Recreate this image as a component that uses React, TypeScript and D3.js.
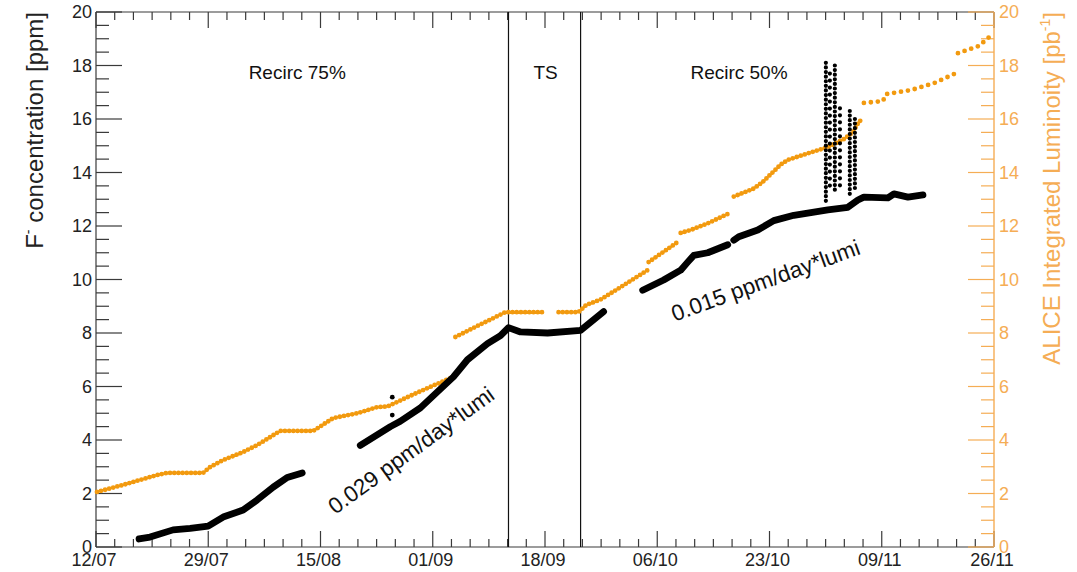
import React from "react";
import * as d3 from "d3";

// Time axis: days since 12/07, eight equal divisions up to 26/11
const DAY_SPAN = 137;
const xTickLabels = ["12/07", "29/07", "15/08", "01/09", "18/09", "06/10", "23/10", "09/11", "26/11"];
const yTickValues = [0, 2, 4, 6, 8, 10, 12, 14, 16, 18, 20];

// F- concentration [ppm] runs, as [day, ppm]
const fluorineRuns: [number, number][][] = [
  [[6.57, 0.3], [8.25, 0.37], [11.76, 0.64], [14.36, 0.7], [17.11, 0.78], [19.4, 1.12], [22.45, 1.38], [24.59, 1.76], [27.04, 2.24], [29.17, 2.6], [31.46, 2.77]],
  [[40.32, 3.8], [44.91, 4.5], [46.43, 4.7], [49.49, 5.2], [52.08, 5.8], [54.53, 6.36], [56.67, 7.0], [59.72, 7.6], [61.71, 7.9], [62.93, 8.2], [64.76, 8.04], [68.89, 8.0], [73.93, 8.1], [77.44, 8.8]],
  [[83.4, 9.6], [86.6, 9.98], [89.2, 10.35], [90.27, 10.65], [91.19, 10.9], [93.33, 11.0], [96.38, 11.3]],
  [[97.3, 11.47], [98.06, 11.6], [100.96, 11.85], [103.4, 12.2], [106.46, 12.4], [111.65, 12.6], [114.7, 12.7], [116.24, 12.97], [117.15, 13.08], [120.82, 13.05], [121.74, 13.2], [123.87, 13.08], [126.16, 13.16]],
];

// isolated F- readings
const fluorineOutliers: [number, number][] = [[45.2, 5.6], [45.2, 4.93]];

// noisy F- readings late October, as [day, lowest ppm, highest ppm]
const fluorineSpikes: [number, number, number][] = [
  [111.35, 12.9, 18.1],
  [111.96, 13.4, 17.7],
  [112.72, 13.2, 18.0],
  [113.5, 13.5, 16.4],
  [115.0, 13.1, 16.3],
  [115.78, 13.3, 16.0],
];

// ALICE integrated luminosity [pb^-1] runs, as [day, value]
const lumiRuns: [number, number][][] = [
  [[0.15, 2.06], [4.12, 2.32], [5.65, 2.43], [9.32, 2.69], [10.84, 2.77], [16.34, 2.77], [17.41, 2.99], [19.4, 3.25], [22.45, 3.55], [24.59, 3.81], [26.58, 4.11], [28.1, 4.34], [33.15, 4.34], [36.2, 4.82], [39.87, 5.0], [42.92, 5.23], [44.45, 5.25], [47.5, 5.6], [50.56, 5.94], [54.53, 6.36]],
  [[54.83, 7.85], [57.58, 8.19], [62.47, 8.78], [68.12, 8.78]],
  [[70.57, 8.78], [73.62, 8.78], [74.8, 9.05], [76.98, 9.25], [78.97, 9.55], [81.56, 9.95], [84.16, 10.35]],
  [[84.31, 10.65], [88.74, 11.4]],
  [[89.2, 11.74], [90.73, 11.85], [93.33, 12.1], [96.84, 12.5]],
  [[97.3, 13.1], [100.35, 13.4], [101.73, 13.65], [104.48, 14.3], [105.54, 14.47], [109.06, 14.75], [111.65, 14.95], [114.1, 15.25], [115.47, 15.5], [116.39, 15.9], [117.0, 16.0]],
  [[117.15, 16.6], [120.06, 16.67], [120.51, 16.93], [124.33, 17.08], [127.84, 17.34], [130.9, 17.68]],
  [[131.5, 18.46], [134.7, 18.73], [136.1, 19.03], [137.0, 19.2]],
];

// operating periods
const phaseBoundaries = [62.93, 73.93];
const phaseLabels: { text: string; day: number }[] = [
  { text: "Recirc 75%", day: 30.7 },
  { text: "TS", day: 68.6 },
  { text: "Recirc 50%", day: 98.1 },
];
const slopeNotes: { text: string; day: number; ppm: number }[] = [
  { text: "0.029 ppm/day*lumi", day: 36.5, ppm: 1.2 },
  { text: "0.015 ppm/day*lumi", day: 88.3, ppm: 8.42 },
];

const W = 1077;
const H = 572;
const L = 96;
const R = 994;
const T = 12;
const B = 547;
const FONT = "'Liberation Sans', Arial, Helvetica, sans-serif";
const AXIS = "#3a3a3a";
const ORANGE = "#f29a0f";
const ORANGE_AXIS = "#f5ad55";

export default function App() {
  const x = d3.scaleLinear().domain([0, DAY_SPAN]).range([L, R]);
  const yL = d3.scaleLinear().domain([0, 20]).range([B, T]);
  const yR = d3.scaleLinear().domain([0, 20]).range([B, T]);

  const fLine = d3.line<[number, number]>().x((d) => x(d[0])).y((d) => yL(d[1]));
  const lLine = d3.line<[number, number]>().x((d) => x(d[0])).y((d) => yR(d[1]));

  const nDiv = xTickLabels.length - 1;
  const majorDays = xTickLabels.map((_, i) => (DAY_SPAN * i) / nDiv);
  const minorDays: number[] = [];
  for (let i = 0; i < nDiv; i++) {
    for (let k = 1; k < 6; k++) minorDays.push(majorDays[i] + ((majorDays[i + 1] - majorDays[i]) * k) / 6);
  }
  const minorY: number[] = [];
  for (let v = 0; v < 20; v += 0.5) if (v % 2 !== 0) minorY.push(v);

  const xMajLen = 16;
  const xMinLen = 8;
  const yMajLen = 26;
  const yMinLen = 13;

  return (
    <svg width={W} height={H} style={{ position: "absolute", left: 0, top: 0, background: "#fff" }} fontFamily={FONT}>
      {/* frame */}
      <line x1={L} x2={R} y1={B} y2={B} stroke={AXIS} strokeWidth={1.2} />
      <line x1={L} x2={R} y1={T} y2={T} stroke={AXIS} strokeWidth={1.2} />
      <line x1={L} x2={L} y1={T} y2={B} stroke={AXIS} strokeWidth={1.2} />

      {/* x ticks, bottom and top */}
      {majorDays.map((d, i) => (
        <g key={"xm" + i}>
          <line x1={x(d)} x2={x(d)} y1={B} y2={B - xMajLen} stroke={AXIS} strokeWidth={1.2} />
          <line x1={x(d)} x2={x(d)} y1={T} y2={T + xMajLen} stroke={AXIS} strokeWidth={1.2} />
          <text x={x(d) - 2} y={566} fontSize={18} textAnchor="middle" fill="#222">
            {xTickLabels[i]}
          </text>
        </g>
      ))}
      {minorDays.map((d, i) => (
        <g key={"xn" + i}>
          <line x1={x(d)} x2={x(d)} y1={B} y2={B - xMinLen} stroke={AXIS} strokeWidth={1.2} />
          <line x1={x(d)} x2={x(d)} y1={T} y2={T + xMinLen} stroke={AXIS} strokeWidth={1.2} />
        </g>
      ))}

      {/* left axis */}
      {yTickValues.map((v) => (
        <g key={"yl" + v}>
          <line x1={L} x2={L + yMajLen} y1={yL(v)} y2={yL(v)} stroke={AXIS} strokeWidth={1.2} />
          <text x={92} y={yL(v) + 6} fontSize={18} textAnchor="end" fill="#222">
            {v}
          </text>
        </g>
      ))}
      {minorY.map((v) => (
        <line key={"ylm" + v} x1={L} x2={L + yMinLen} y1={yL(v)} y2={yL(v)} stroke={AXIS} strokeWidth={1.2} />
      ))}
      <text transform={`translate(43,${T}) rotate(-90)`} fontSize={24} textAnchor="end" fill="#222">
        F<tspan fontSize={14} dy={-10}>-</tspan>
        <tspan dy={10}> concentration [ppm]</tspan>
      </text>

      {/* right axis, luminosity */}
      <line x1={R} x2={R} y1={T} y2={B} stroke={ORANGE_AXIS} strokeWidth={1.4} />
      {yTickValues.map((v) => (
        <g key={"yr" + v}>
          <line x1={R} x2={R - yMajLen} y1={yR(v)} y2={yR(v)} stroke={ORANGE_AXIS} strokeWidth={1.2} />
          <text x={999} y={yR(v) + 6} fontSize={18} textAnchor="start" fill={ORANGE_AXIS}>
            {v}
          </text>
        </g>
      ))}
      {minorY.map((v) => (
        <line key={"yrm" + v} x1={R} x2={R - yMinLen} y1={yR(v)} y2={yR(v)} stroke={ORANGE_AXIS} strokeWidth={1.2} />
      ))}
      <text transform={`translate(1060,${T}) rotate(-90)`} fontSize={24} textAnchor="end" fill={ORANGE_AXIS}>
        ALICE Integrated Luminoity [pb
        <tspan fontSize={14} dy={-10}>-1</tspan>
        <tspan dy={10}>]</tspan>
      </text>

      {/* period boundaries */}
      {phaseBoundaries.map((d) => (
        <line key={"pb" + d} x1={x(d)} x2={x(d)} y1={T} y2={B} stroke="#111" strokeWidth={1.2} />
      ))}
      {phaseLabels.map((p) => (
        <text key={p.text} x={x(p.day)} y={79} fontSize={19} textAnchor="middle" fill="#111">
          {p.text}
        </text>
      ))}

      {/* luminosity, dotted */}
      {lumiRuns.map((run, i) => (
        <path
          key={"lum" + i}
          d={lLine(run) || ""}
          fill="none"
          stroke={ORANGE}
          strokeWidth={4.8}
          strokeLinecap="round"
          strokeDasharray={i >= 6 ? "0 7" : "0 4.2"}
        />
      ))}

      {/* F- concentration */}
      {fluorineRuns.map((run, i) => (
        <path
          key={"f" + i}
          d={fLine(run) || ""}
          fill="none"
          stroke="#000"
          strokeWidth={6.8}
          strokeLinecap="round"
          strokeLinejoin="round"
        />
      ))}
      {fluorineSpikes.map(([d, lo, hi], i) => (
        <line
          key={"sp" + i}
          x1={x(d)}
          x2={x(d)}
          y1={yL(hi)}
          y2={yL(lo)}
          stroke="#000"
          strokeWidth={4.2}
          strokeLinecap="round"
          strokeDasharray={i === 1 || i === 3 ? "0 7" : "0 4.6"}
        />
      ))}
      {fluorineOutliers.map(([d, v], i) => (
        <circle key={"o" + i} cx={x(d)} cy={yL(v)} r={2.4} fill="#000" />
      ))}

      {/* slope annotations */}
      <text transform={`translate(${x(slopeNotes[0].day)},${yL(slopeNotes[0].ppm)}) rotate(-36)`} fontSize={22.5} fill="#111">
        {slopeNotes[0].text}
      </text>
      <text transform={`translate(${x(slopeNotes[1].day)},${yL(slopeNotes[1].ppm)}) rotate(-20)`} fontSize={22.5} fill="#111">
        {slopeNotes[1].text}
      </text>
    </svg>
  );
}
